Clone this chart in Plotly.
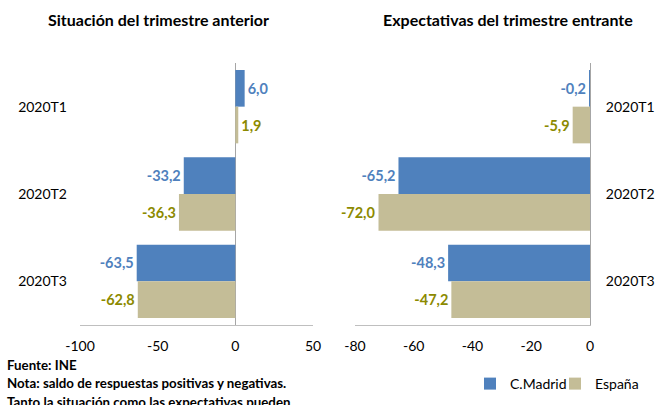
import plotly.graph_objects as go

trimestres = ["2020T1", "2020T2", "2020T3"]
madrid_anterior = [6.0, -33.2, -63.5]
espana_anterior = [1.9, -36.3, -62.8]
madrid_entrante = [-0.2, -65.2, -48.3]
espana_entrante = [-5.9, -72.0, -47.2]

ticks_izq = [-100, -50, 0, 50]
etiq_izq = ["-100", "-50", "0", "50"]
ticks_der = [-80, -60, -40, -20, 0]
etiq_der = ["-80", "-60", "-40", "-20", "0"]

AZUL = "#4F81BD"
BEIGE = "#C4BD97"
AZUL_TXT = "#4F81BD"
OLIVA_TXT = "#8C8A00"
FUENTE = "Lato"

W, H = 656, 405


def px(x):
    return x / W


def py(y):
    return 1 - y / H


fig = go.Figure()


def barras(x, nombre, color, color_txt, xa, ya, leyenda):
    return go.Bar(
        y=trimestres, x=x, name=nombre, orientation="h",
        marker=dict(color=color, line=dict(width=0)),
        text=x, texttemplate="%{x:.1f}", textposition="outside",
        textfont=dict(color=color_txt, size=14.5, family=FUENTE, weight="bold"),
        cliponaxis=False, xaxis=xa, yaxis=ya, showlegend=leyenda,
    )


fig.add_trace(barras(madrid_anterior, "C.Madrid", AZUL, AZUL_TXT, "x", "y", True))
fig.add_trace(barras(espana_anterior, "España", BEIGE, OLIVA_TXT, "x", "y", True))
fig.add_trace(barras(madrid_entrante, "C.Madrid", AZUL, AZUL_TXT, "x2", "y2", False))
fig.add_trace(barras(espana_entrante, "España", BEIGE, OLIVA_TXT, "x2", "y2", False))

ydom = [py(325), py(63)]
eje_x = dict(showgrid=False, zeroline=True, zerolinecolor="#A6A6A6", zerolinewidth=1,
             showline=True, linecolor="#BFBFBF", linewidth=1, ticks="", automargin=False,
             ticklabelstandoff=8,
             tickfont=dict(size=14, color="#000000", family=FUENTE))
eje_y = dict(showgrid=False, zeroline=False, autorange="reversed", ticks="", automargin=False,
             tickfont=dict(size=14, color="#000000", family=FUENTE), domain=ydom)


def nota(texto, x, y, tam, anchor="center"):
    return dict(text=texto, x=px(x), y=py(y), xref="paper", yref="paper",
                xanchor=anchor, yanchor="middle", showarrow=False,
                font=dict(size=tam, family=FUENTE, color="#000000"))


fig.update_layout(
    width=W, height=H,
    margin=dict(l=0, r=0, t=0, b=0),
    paper_bgcolor="white", plot_bgcolor="white",
    barmode="group", bargap=0.16, bargroupgap=0,
    separators=",.",
    font=dict(family=FUENTE, color="#000000"),
    xaxis=dict(eje_x, domain=[px(80), px(313)], range=[-100, 50],
               tickvals=ticks_izq, ticktext=etiq_izq, anchor="y"),
    yaxis=dict(eje_y, anchor="x", showline=False, ticklabelstandoff=12),
    xaxis2=dict(eje_x, domain=[px(355), px(590)], range=[-80, 0],
                tickvals=ticks_der, ticktext=etiq_der, anchor="y2"),
    yaxis2=dict(eje_y, anchor="x2", side="right", showline=True,
                linecolor="#A6A6A6", ticklabelstandoff=12),
    legend=dict(orientation="h", x=px(470), y=py(384), xanchor="left", yanchor="middle",
                font=dict(size=14, family=FUENTE, color="#000000"), itemwidth=30,
                entrywidth=40, entrywidthmode="pixels",
                bgcolor="rgba(0,0,0,0)", traceorder="normal"),
    annotations=[
        nota("<b>Situación del trimestre anterior</b>", 158, 19, 16),
        nota("<b>Expectativas del trimestre entrante</b>", 508, 19, 16),
        nota("<b>Fuente: INE</b>", 5, 365, 13.3, "left"),
        nota("<b>Nota: saldo de respuestas positivas y negativas.</b>", 5, 383, 13.3, "left"),
        nota("<b>Tanto la situación como las expectativas pueden</b>", 5, 402, 13.3, "left"),
    ],
)

# sin margen en el body para que la figura ocupe justo la ventana
fig.write_html("out.html", config={"displayModeBar": False},
               post_script="document.body.style.margin='0';")
